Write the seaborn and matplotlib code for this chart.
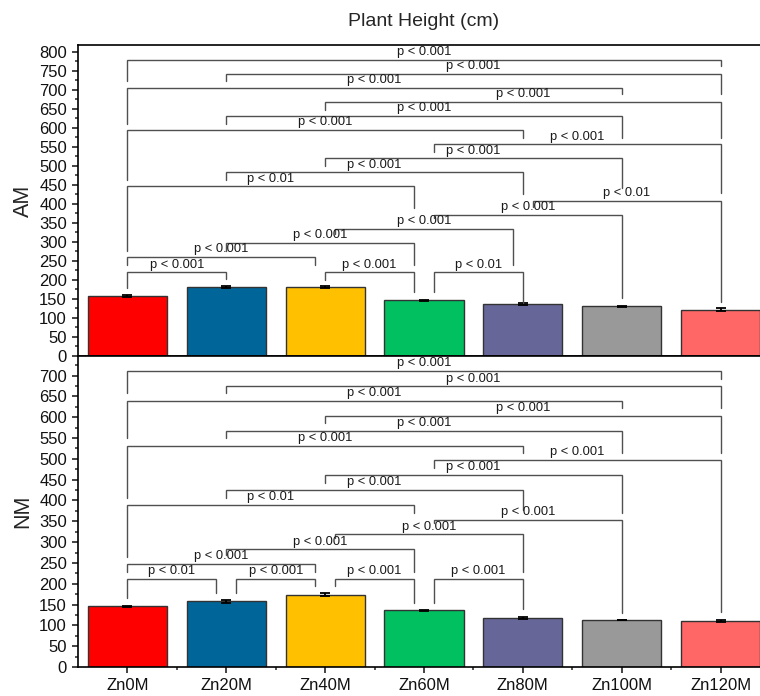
import numpy as np
import matplotlib
matplotlib.use("Agg")
import matplotlib.pyplot as plt
from matplotlib.ticker import MultipleLocator, FixedLocator
import seaborn as sns

# Data
categories = ["Zn0M", "Zn20M", "Zn40M", "Zn60M", "Zn80M", "Zn100M", "Zn120M"]
am_height = [158, 181, 181, 146, 137, 131, 122]
am_err = [2, 2, 3, 2, 2, 1, 3]
nm_height = [146, 158, 174, 136, 117, 113, 110]
nm_err = [1.5, 4, 3, 2, 2, 0.5, 2.5]
bar_colors = ["#FF0000", "#006699", "#FFC000", "#00C060", "#666699", "#999999", "#FF6666"]

# significance brackets: (from, to, line height, left leg end, right leg end, label)
am_brackets = [
    (0, 6, 779, 724, 762, "p < 0.001"),
    (1, 6, 742, 724, 688, "p < 0.001"),
    (0, 5, 705, 611, 688, "p < 0.001"),
    (2, 6, 668, 648, 573, "p < 0.001"),
    (1, 5, 631, 611, 573, "p < 0.001"),
    (0, 4, 594, 464, 573, "p < 0.001"),
    (3.1, 6, 557, 536, 429, "p < 0.001"),
    (2, 5, 520, 501, 441, "p < 0.001"),
    (1, 4, 483, 464, 427, "p < 0.001"),
    (0, 2.9, 446, 277, 389, "p < 0.01"),
    (4.1, 6, 409, 393, 143, "p < 0.01"),
    (3.1, 5, 371, 363, 152, "p < 0.001"),
    (2.1, 3.9, 334, 321, 240, "p < 0.001"),
    (1, 2.9, 297, 277, 240, "p < 0.001"),
    (0, 1.9, 260, 240, 240, "p < 0.001"),
    (0, 1, 220, 178, 202, "p < 0.001"),
    (2, 2.9, 220, 200, 169, "p < 0.001"),
    (3.1, 4, 220, 169, 139, "p < 0.01"),
]
nm_brackets = [
    (0, 6, 711, 658, 692, "p < 0.001"),
    (1, 6, 674, 658, 622, "p < 0.001"),
    (0, 5, 639, 550, 622, "p < 0.001"),
    (2, 6, 603, 586, 514, "p < 0.001"),
    (1, 5, 567, 550, 514, "p < 0.001"),
    (0, 4, 532, 407, 514, "p < 0.001"),
    (3.1, 6, 497, 479, 133, "p < 0.001"),
    (2, 5, 461, 443, 371, "p < 0.001"),
    (1, 4, 425, 407, 377, "p < 0.001"),
    (0, 2.9, 389, 265, 371, "p < 0.01"),
    (3.1, 5, 353, 345, 129, "p < 0.001"),
    (2.1, 4, 319, 310, 229, "p < 0.001"),
    (1, 2.9, 283, 269, 229, "p < 0.001"),
    (0, 1.9, 247, 229, 229, "p < 0.001"),
    (0, 0.9, 211, 165, 178, "p < 0.01"),
    (1.1, 1.9, 211, 178, 195, "p < 0.001"),
    (2.1, 2.9, 211, 195, 154, "p < 0.001"),
    (3.1, 4, 211, 154, 139, "p < 0.001"),
]

sns.set_style("ticks")
plt.rcParams['font.family'] = ['Liberation Sans', 'DejaVu Sans']

fig = plt.figure(figsize=(7.6, 6.96), dpi=100)
# axes run past the right edge, the original picture is cropped there
ax_top = fig.add_axes([78 / 760, 1 - 356 / 696, 692 / 760, 311 / 696])
ax_bot = fig.add_axes([78 / 760, 1 - 667 / 696, 692 / 760, 311 / 696])


def draw_panel(ax, values, errs, brackets, ymax, ylabel):
    sns.barplot(x=categories, y=values, hue=categories, palette=bar_colors,
                legend=False, ax=ax, width=0.8, edgecolor="#333333",
                linewidth=1, saturation=1, errorbar=None)
    ax.errorbar(np.arange(len(categories)), values, yerr=errs, fmt="none",
                ecolor="black", elinewidth=1.3, capsize=3.5, capthick=1.3)
    for x1, x2, y, yl, yr, label in brackets:
        ax.plot([x1, x1, x2, x2], [yl, y, y, yr], color="#505050", lw=1.0,
                solid_joinstyle="miter")
        ax.annotate(label, xy=((x1 + x2) / 2, y), xytext=(0, 1.2),
                    textcoords="offset points", ha="center", va="bottom",
                    fontsize=9.3, color="#1a1a1a")
    ax.set_xlim(-0.5, 6.5)
    ax.set_ylim(0, ymax)
    ax.yaxis.set_major_locator(MultipleLocator(50))
    ax.yaxis.set_minor_locator(MultipleLocator(25))
    ax.tick_params(axis="y", which="major", direction="out", length=4,
                   width=1.1, labelsize=12, pad=4, colors="#111111")
    ax.tick_params(axis="y", which="minor", direction="out", length=2.5, width=1.1)
    ax.set_ylabel(ylabel, fontsize=15.5, labelpad=4)
    ax.set_xlabel("")
    for side in ["left", "bottom", "top", "right"]:
        ax.spines[side].set_visible(True)
        ax.spines[side].set_linewidth(1.2)
        ax.spines[side].set_color("black")


draw_panel(ax_top, am_height, am_err, am_brackets, 818, "AM")
draw_panel(ax_bot, nm_height, nm_err, nm_brackets, 747, "NM")

ax_top.tick_params(axis="x", which="both", length=0, labelbottom=False)
ax_bot.xaxis.set_minor_locator(FixedLocator(np.arange(0.5, 6.6, 1)))
ax_bot.tick_params(axis="x", which="major", direction="out", length=4,
                   width=1.1, labelsize=12, pad=4, colors="#111111")
ax_bot.tick_params(axis="x", which="minor", direction="out", length=2.5, width=1.1)

fig.text(424 / 760, 1 - 22 / 696, "Plant Height (cm)", ha="center",
         va="center", fontsize=14)

fig.savefig("out.png", dpi=100)
